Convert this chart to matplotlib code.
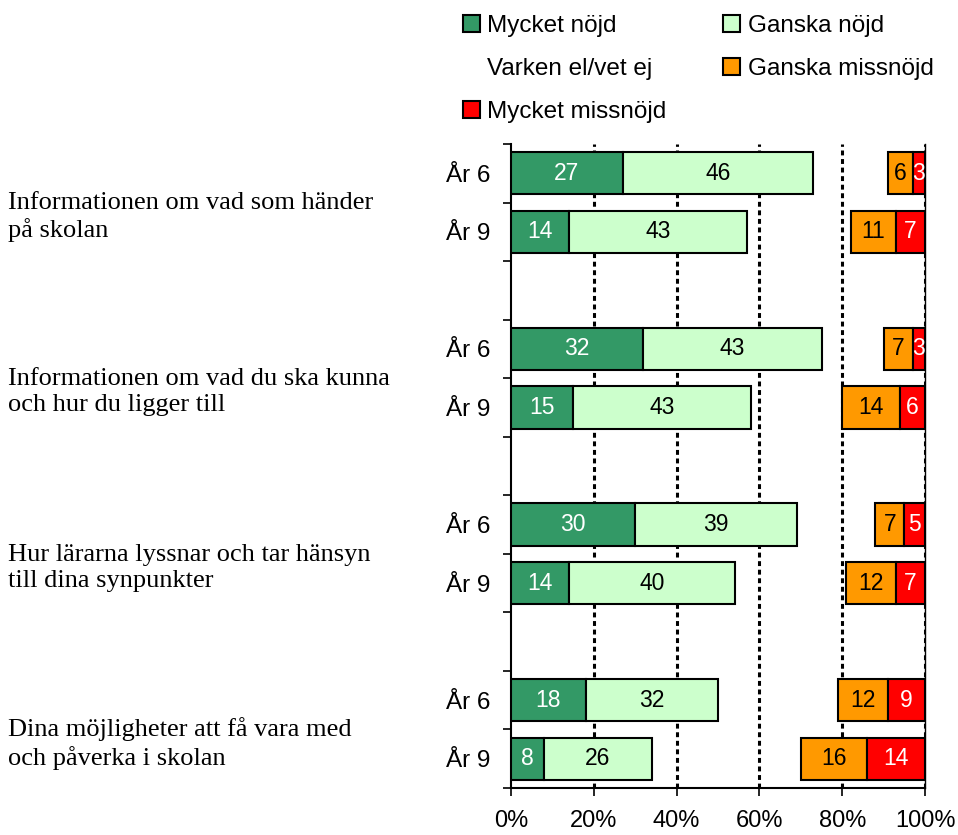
import matplotlib
matplotlib.use("Agg")
import matplotlib.pyplot as plt
from matplotlib.patches import Patch
from matplotlib.transforms import blended_transform_factory
import numpy as np

# Questions (left labels) and the two school years per question
questions = [
    "Informationen om vad som händer\npå skolan",
    "Informationen om vad du ska kunna\noch hur du ligger till",
    "Hur lärarna lyssnar och tar hänsyn\ntill dina synpunkter",
    "Dina möjligheter att få vara med\noch påverka i skolan",
]
years = ["År 6", "År 9"]

# percentages, order: Q1 År6, Q1 År9, Q2 År6, ...
mycket_nojd = [27, 14, 32, 15, 30, 14, 18, 8]
ganska_nojd = [46, 43, 43, 43, 39, 40, 32, 26]
varken = [18, 25, 15, 22, 19, 27, 29, 36]
ganska_missnojd = [6, 11, 7, 14, 7, 12, 12, 16]
mycket_missnojd = [3, 7, 3, 6, 5, 7, 9, 14]

series = ["Mycket nöjd", "Ganska nöjd", "Varken el/vet ej", "Ganska missnöjd", "Mycket missnöjd"]
colors = ["#339966", "#CCFFCC", "white", "#FF9900", "#FF0000"]
text_colors = ["white", "black", None, "black", "white"]
values = [mycket_nojd, ganska_nojd, varken, ganska_missnojd, mycket_missnojd]

sans = "Liberation Sans"
serif = "Liberation Serif"

# slot positions: two bars per question, blank slot between questions
pos = []
for g in range(len(questions)):
    pos += [g * 3, g * 3 + 1]
pos = np.array(pos)

fig = plt.figure(figsize=(9.58, 8.35), dpi=100)
ax = fig.add_axes([0.5334, 0.0563, 0.4322, 0.7712])

left = np.zeros(len(pos))
for vals, col, tcol in zip(values, colors, text_colors):
    vals = np.array(vals, dtype=float)
    if col == "white":
        # "Varken el/vet ej" is left blank in the chart
        ax.barh(pos, vals, left=left, height=0.72, color="none", edgecolor="none", zorder=3)
    else:
        ax.barh(pos, vals, left=left, height=0.72, color=col, edgecolor="black", linewidth=1.5, zorder=3)
        for p, l, v in zip(pos, left, vals):
            ax.text(l + v / 2, p, f"{v:.0f}", ha="center", va="center", color=tcol,
                    fontsize=16.5, family=sans, zorder=4)
    left += vals

ax.set_xlim(0, 100)
ax.set_ylim(pos.max() + 0.5, -0.5)

for xg in [20, 40, 60, 80, 100]:
    ax.axvline(xg, color="black", linestyle=(0, (1.6, 1.2)), linewidth=2.2, zorder=1)

ax.set_xticks([0, 20, 40, 60, 80, 100])
ax.set_xticklabels([f"{t}%" for t in [0, 20, 40, 60, 80, 100]], fontsize=17, family=sans)
ax.tick_params(axis="x", direction="out", length=6, width=1.2, pad=10)

ax.set_yticks(pos)
ax.set_yticklabels(years * len(questions), fontsize=17.5, family=sans)
ax.tick_params(axis="y", which="major", length=0, pad=15)
ax.set_yticks(np.arange(-0.5, pos.max() + 1, 1), minor=True)
ax.tick_params(axis="y", which="minor", direction="out", length=6, width=1.2)

ax.spines["top"].set_visible(False)
ax.spines["left"].set_linewidth(1.5)
ax.spines["bottom"].set_linewidth(1.5)
ax.spines["right"].set_linewidth(1.0)

# question labels on the far left
trans = blended_transform_factory(fig.transFigure, ax.transData)
for g, q in enumerate(questions):
    yc = (pos[2 * g] + pos[2 * g + 1]) / 2 + 0.24
    ax.text(0.008, yc, q, transform=trans, ha="left", va="center", fontsize=19,
            family=serif, linespacing=1.22)

# legend, row-wise order
handles = [Patch(facecolor=c, edgecolor="black" if c != "white" else "none", linewidth=1.5) for c in colors]
order = [0, 2, 4, 1, 3]
fig.legend([handles[i] for i in order], [series[i] for i in order], ncol=2,
           loc="upper left", bbox_to_anchor=(0.46, 1.008), frameon=False,
           prop={"family": sans, "size": 17.5}, handlelength=0.7, handleheight=0.7,
           handletextpad=0.3, columnspacing=2.35, labelspacing=0.85)

fig.savefig("out.png", dpi=100)
